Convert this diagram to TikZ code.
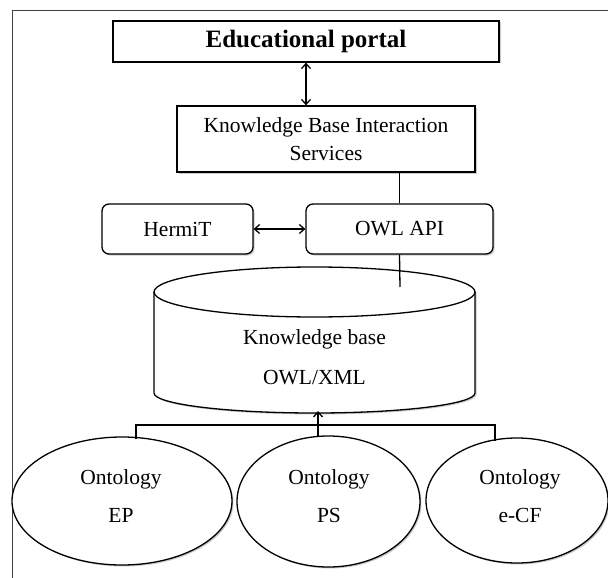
\documentclass[tikz,border=0pt]{standalone}
\usepackage{fontspec}
\setmainfont{Liberation Serif}
\usetikzlibrary{arrows.meta,shadows,shapes.geometric}
\begin{document}
\begin{tikzpicture}[x=1pt,y=-1pt,
  line width=1.3pt,
  shad/.style={drop shadow={shadow xshift=1.5pt,shadow yshift=-1.5pt,fill=black!35,opacity=0.6}},
  txt/.style={font=\fontsize{21.5}{28}\selectfont,align=center},
  box/.style={draw,fill=white,shad,inner sep=0pt,txt},
  rbox/.style={box,rounded corners=7pt},
  ont/.style={draw,fill=white,shad,ellipse,inner sep=0pt},
  arr/.style={{Straight Barb[length=5pt,width=9pt]}-{Straight Barb[length=5pt,width=9pt]}},
  uarr/.style={-{Straight Barb[length=5pt,width=9pt]}}
]
\useasboundingbox (0,0) rectangle (608,578);
\fill[white] (0,0) rectangle (608,578);
% frame
\draw[line width=1pt,black!75] (12,578) -- (12,11) -- (608,11);

% boxes
\node[box,minimum width=386pt,minimum height=41pt,font=\bfseries\fontsize{25}{28}\selectfont] (portal) at (306,41.5) {Educational portal};
\node[box,minimum width=298pt,minimum height=66pt] (kbis) at (326,139) {Knowledge Base Interaction\\Services};
\node[rbox,minimum width=151pt,minimum height=50pt] (hermit) at (177.5,229) {HermiT};
\node[rbox,minimum width=187pt,minimum height=50pt] (owlapi) at (399.5,229) {OWL API};

% cylinder
\draw[fill=white,shad] (154,292) -- (154,393) arc[start angle=180,end angle=360,x radius=160.5pt,y radius=20pt] -- (475,292) arc[start angle=0,end angle=180,x radius=160.5pt,y radius=25pt] -- cycle;
\draw (154,292) arc[start angle=180,end angle=360,x radius=160.5pt,y radius=25pt];
\node[txt,font=\fontsize{21.5}{40}\selectfont] (kb) at (314.5,357) {Knowledge base\\OWL/XML};
\coordinate (kbtop) at (400,287);
\coordinate (kbbot) at (318,411);

% ontologies
\node[ont,minimum width=220pt,minimum height=128pt] (ep) at (122,501) {};
\node[ont,minimum width=183pt,minimum height=131pt] (ps) at (328.5,501.5) {};
\node[ont,minimum width=182pt,minimum height=125pt] (ecf) at (517,500.5) {};
\node[txt,font=\fontsize{21.5}{38}\selectfont] (eptxt) at (121,496) {Ontology\\EP};
\node[txt,font=\fontsize{21.5}{38}\selectfont] (pstxt) at (329,496) {Ontology\\PS};
\node[txt,font=\fontsize{21.5}{38}\selectfont] (ecftxt) at (520,496) {Ontology\\e-CF};

% connectors
\draw[arr] (portal.south) -- (portal.south |- kbis.north);
\draw (owlapi.north |- kbis.south) -- (owlapi.north);
\draw[arr] (hermit.east) -- (owlapi.west);
\draw (owlapi.south) -- (kbtop);

\coordinate (hl) at (136,425);
\coordinate (hr) at (495,425);
\coordinate (epc) at (136,439);
\coordinate (ecfc) at (495,441);
\coordinate (psc) at (318,437);
\draw (epc) -- (hl) -- (hr) -- (ecfc);
\draw[uarr] (psc) -- (kbbot);
\end{tikzpicture}
\end{document}
